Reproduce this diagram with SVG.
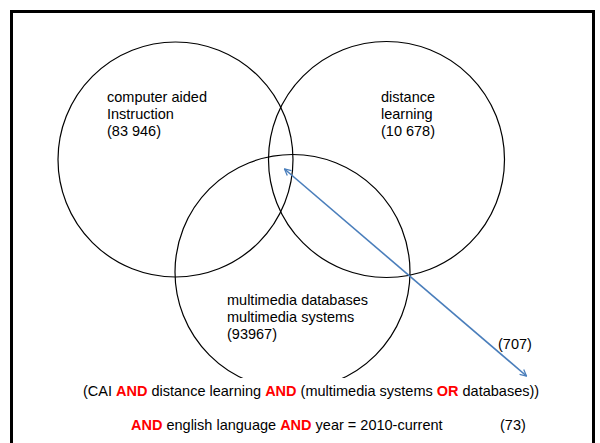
<svg xmlns="http://www.w3.org/2000/svg" width="600" height="443" viewBox="0 0 600 443">
<style>
.c{fill:none;stroke:#000;stroke-width:1.2}
.t{font-family:"Liberation Sans",Arial,sans-serif;font-size:14.5px;fill:#000}
.k{fill:#ff0000;font-weight:bold}
.a{stroke:#4a7ebb;stroke-width:1.6;fill:none}
</style>
<defs>
<marker id="ah" viewBox="0 0 10 10" refX="9" refY="5" markerWidth="8" markerHeight="8" markerUnits="userSpaceOnUse" orient="auto-start-reverse">
<path d="M1,1 L9,5 L1,9" fill="none" stroke="#4a7ebb" stroke-width="1.6"/>
</marker>
</defs>
<rect x="0" y="0" width="600" height="443" fill="#fff"/>
<rect x="11.5" y="11.5" width="582" height="460" fill="none" stroke="#000" stroke-width="3"/>
<g id="cai">
<circle class="c" cx="175.5" cy="159.5" r="117.5"/>
<text class="t" x="107" y="102">computer aided</text>
<text class="t" x="107" y="119">Instruction</text>
<text class="t" x="107" y="136">(83 946)</text>
</g>
<g id="distance">
<circle class="c" cx="386.5" cy="159.5" r="118"/>
<text class="t" x="381" y="102">distance</text>
<text class="t" x="381" y="119">learning</text>
<text class="t" x="381" y="136">(10 678)</text>
</g>
<g id="multimedia">
<circle class="c" cx="292.5" cy="272" r="117.5"/>
<text class="t" x="227" y="305">multimedia databases</text>
<text class="t" x="227" y="322">multimedia systems</text>
<text class="t" x="227" y="339">(93967)</text>
</g>
<g id="query">
<rect x="70" y="378" width="490" height="62" fill="#fff"/>
<text class="t" x="83" y="396">(CAI <tspan class="k">AND</tspan> distance learning <tspan class="k">AND</tspan> (multimedia systems <tspan class="k">OR</tspan> databases))</text>
<text class="t" x="131" y="430"><tspan class="k">AND</tspan> english language <tspan class="k">AND</tspan> year = 2010-current</text>
<text class="t" x="500" y="430">(73)</text>
</g>
<g id="connectors">
<line class="a" x1="284.5" y1="169" x2="526.5" y2="376" marker-start="url(#ah)" marker-end="url(#ah)"/>
<text class="t" x="498" y="349">(707)</text>
</g>
</svg>
